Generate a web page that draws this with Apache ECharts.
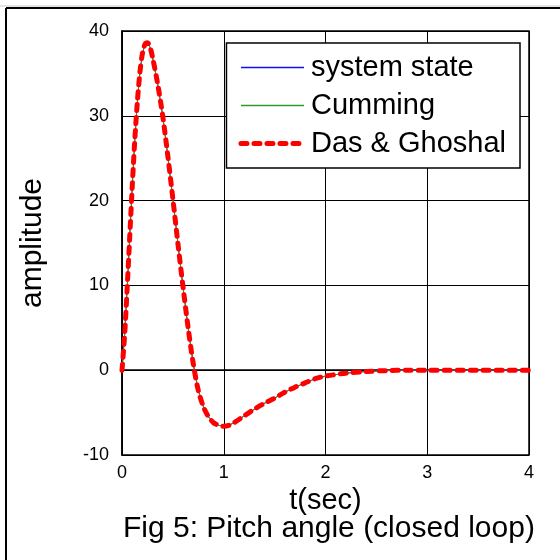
<!DOCTYPE html>
<html>
<head>
<meta charset="utf-8">
<script src="https://cdn.jsdelivr.net/npm/echarts@6/dist/echarts.min.js"></script>
<style>
  html, body { margin: 0; padding: 0; background: #fff; }
  #chart { width: 560px; height: 560px; }
</style>
</head>
<body>
<div id="chart"></div>
<script>
// time (s)
var time = [0, 0.025, 0.05, 0.075, 0.1, 0.125, 0.15, 0.175, 0.2, 0.225, 0.25, 0.275, 0.3,
  0.35, 0.4, 0.45, 0.5, 0.55, 0.6, 0.65, 0.7, 0.75, 0.8, 0.85, 0.9, 0.95, 1.0, 1.05, 1.1,
  1.2, 1.3, 1.4, 1.5, 1.6, 1.7, 1.8, 1.9, 2.0, 2.2, 2.4, 2.6, 2.8, 3.0, 3.5, 4.0];
// pitch angle, the three curves lie on top of each other
var pitch = [0, 4, 9.5, 15.5, 21.5, 27, 31.5, 35, 37.3, 38.4, 38.6, 38.1, 36.9,
  33.8, 30, 25.3, 20.2, 14.9, 9.8, 5, 0.8, -2.4, -4.3, -5.5, -6.2, -6.5, -6.6, -6.5, -6.2,
  -5.4, -4.6, -3.9, -3.3, -2.6, -2.0, -1.5, -1.0, -0.7, -0.35, -0.15, -0.05, 0, 0, 0, 0];
var seriesNames = ["system state", "Cumming", "Das & Ghoshal"];
var xTicks = [0, 1, 2, 3, 4];
var yTicks = [-10, 0, 10, 20, 30, 40];

function pairs(xs, ys) {
  var out = [];
  for (var i = 0; i < xs.length; i++) out.push([xs[i], ys[i]]);
  return out;
}

var font = "Liberation Sans";
var blue = "#1010e8", green = "#2e9a2e", red = "#ff0000";

var chart = echarts.init(document.getElementById("chart"));
chart.setOption({
  animation: false,
  backgroundColor: "#fff",
  title: {
    text: "Fig 5: Pitch angle (closed loop)",
    left: 123,
    top: 514,
    padding: 0,
    textStyle: { fontFamily: font, fontSize: 30, fontWeight: "normal", color: "#000" }
  },
  graphic: [
    { type: "line", shape: { x1: 0, y1: 6, x2: 560, y2: 6 }, style: { stroke: "#c8c8c8", lineWidth: 1 } },
    { type: "line", shape: { x1: 6, y1: 8, x2: 560, y2: 8 }, style: { stroke: "#000", lineWidth: 2 } },
    { type: "line", shape: { x1: 6, y1: 8, x2: 6, y2: 560 }, style: { stroke: "#000", lineWidth: 2 } }
  ],
  legend: {
    data: [
      { name: seriesNames[0], lineStyle: { color: blue, width: 1.3 } },
      { name: seriesNames[1], lineStyle: { color: green, width: 1.3 } },
      { name: seriesNames[2], lineStyle: { color: red, width: 5, type: [6, 7], cap: "round" } }
    ],
    orient: "vertical",
    right: 40,
    top: 43,
    backgroundColor: "#fff",
    borderColor: "#000",
    borderWidth: 1.5,
    borderRadius: 0,
    padding: [10, 14, 10, 12],
    itemWidth: 63,
    itemHeight: 14,
    itemGap: 9,
    itemStyle: { opacity: 0 },
    textStyle: { fontFamily: font, fontSize: 29, color: "#000", lineHeight: 29, padding: [0, 0, 0, 2] }
  },
  grid: {
    left: 122, right: 31, top: 31, bottom: 105,
    show: true, borderColor: "#000", borderWidth: 1.5
  },
  xAxis: {
    type: "value",
    min: xTicks[0],
    max: xTicks[xTicks.length - 1],
    interval: 1,
    name: "t(sec)",
    nameLocation: "middle",
    nameGap: 20,
    nameTextStyle: { fontFamily: font, fontSize: 29, color: "#000" },
    axisLine: { show: true, lineStyle: { color: "#000", width: 1.5 } },
    axisTick: { show: false },
    axisLabel: { fontFamily: font, fontSize: 18, color: "#000", margin: 9 },
    splitLine: { show: true, lineStyle: { color: "#000", width: 1 } }
  },
  yAxis: {
    type: "value",
    min: yTicks[0],
    max: yTicks[yTicks.length - 1],
    interval: 10,
    name: "amplitude",
    nameLocation: "middle",
    nameGap: 74,
    nameTextStyle: { fontFamily: font, fontSize: 30, color: "#000" },
    axisLine: { show: true, lineStyle: { color: "#000", width: 1.5 } },
    axisTick: { show: false },
    axisLabel: { fontFamily: font, fontSize: 18, color: "#000", margin: 13 },
    splitLine: { show: true, lineStyle: { color: "#000", width: 1 } }
  },
  series: [
    {
      name: seriesNames[0], type: "line", data: pairs(time, pitch),
      showSymbol: false, symbol: "none",
      lineStyle: { color: blue, width: 1 }, itemStyle: { color: blue }
    },
    {
      name: seriesNames[1], type: "line", data: pairs(time, pitch),
      showSymbol: false, symbol: "none",
      lineStyle: { color: green, width: 1 }, itemStyle: { color: green }
    },
    {
      name: seriesNames[2], type: "line", data: pairs(time, pitch),
      showSymbol: false, symbol: "none", smooth: 0.3,
      lineStyle: { color: red, width: 5, type: [6, 7], cap: "round", join: "round" },
      itemStyle: { color: red }
    }
  ]
});
</script>
</body>
</html>
